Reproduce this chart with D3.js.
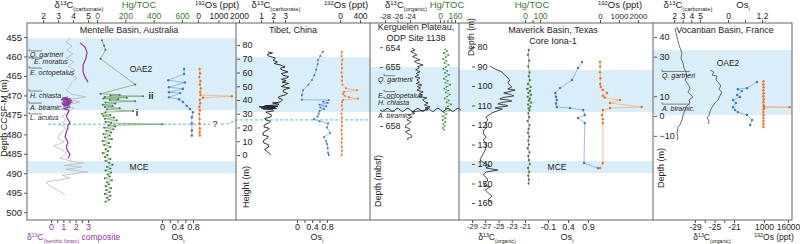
<!DOCTYPE html>
<html>
<head>
<meta charset="utf-8">
<script src="https://cdn.jsdelivr.net/npm/d3@7"></script>
<style>
  body { margin: 0; background: #fff; }
  svg { font-family: "Liberation Sans", Arial, sans-serif; }
</style>
</head>
<body>
<svg id="chart" width="800" height="244"></svg>
<script>
// ---- data ----
// Mentelle Basin: [depth (m), value]
const mentGrey = [[455.3,3.8],[456.3,3.53],[457.3,3.93],[458.3,3.6],[459.4,4.0],[460.4,3.53],[461.4,4.07],[462.5,3.67],[463.5,4.13],[464.5,3.73],[465.5,4.27],[466.6,3.93],[467.6,3.8],[468.6,3.53],[469.7,3.93],[470.4,4.87],[471,3.8],[471.7,4.47],[472.5,3.53],[473.3,4.07],[474.3,3.67],[475.3,3.27],[476.3,3.53],[477.4,3.13],[478.4,3.53],[479.5,3.2],[481,3.0],[482,3.4],[483,2.73],[484,3.27],[485,3.6],[486.1,3.13],[486.9,3.93],[487.4,4.73],[488,3.4],[488.4,4.6],[489,3.53],[489.7,5.0],[490.5,3.27],[491.2,3.8],[492.3,2.2],[493.3,2.47],[494.3,3.0],[495.6,3.47]];
const mentBenthicUpper = [[456.5,2.35],[457.6,2.76],[458.9,2.92],[460.4,2.84],[462.2,2.6],[464,2.6],[465.3,2.76],[466.6,3.0]];
const mentBenthicLower = [[470.4,1.38],[470.7,0.9],[470.9,1.6],[471.1,0.8],[471.3,1.7],[471.5,0.95],[471.7,1.75],[471.9,0.85],[472.1,1.6],[472.3,0.9],[472.5,1.5],[472.7,1.0],[473,1.55],[473.4,0.97],[473.8,1.45],[474.5,1.38],[475.2,1.25],[475.8,1.3],[476.5,1.45],[477.1,1.54],[477.8,1.35],[478.4,1.38],[478.9,1.3],[479.8,1.2],[480.7,1.14],[481.5,1.3],[482.2,1.38],[483,1.25],[484,1.3],[484.7,1.45],[485.3,1.54],[486.1,1.38]];
const mentHg = [[455.8,35],[457.2,50],[458.3,60],[460.6,25],[467.2,270],[469.6,25],[469.8,160],[470.0,95],[470.2,325],[470.4,55],[470.6,210],[470.8,45],[471.0,150],[471.2,90],[471.5,270],[471.8,60],[472.1,130],[472.4,40],[472.7,110],[473.0,55],[473.3,160],[473.6,70],[474.0,255],[474.3,60],[474.7,35],[475.0,95],[475.3,45],[475.7,120],[476.0,55],[476.4,140],[476.8,60],[477.1,100],[477.4,460],[477.7,80],[478.0,130],[478.3,50],[478.7,115],[479.1,65],[479.5,100],[479.9,45],[480.3,90],[480.8,55],[481.2,105],[481.7,40],[482.2,85],[482.7,50],[483.2,95],[483.8,60],[484.3,80],[484.8,40],[485.3,75],[485.8,55],[486.3,95],[486.8,60],[487.3,85],[487.8,110],[488.3,70],[488.8,95],[489.3,60],[489.8,100],[490.3,75],[490.8,90],[491.3,55],[491.8,105],[492.3,70],[492.8,85],[493.3,60],[493.8,100],[494.3,65],[494.8,90],[495.3,55],[495.8,95],[496.3,70],[496.8,85],[497.3,60]];
const mentOsi = [[463.2,0.57],[464.5,0.57],[466.1,0.16],[466.7,0.59],[467.9,0.18],[468.3,0.54],[469.2,0.18],[469.4,0.47],[470.5,0.18],[471.0,0.44],[471.7,0.54],[472.7,0.64],[473.5,0.72],[474.3,0.8],[475.6,0.77],[477.2,0.77],[479.0,0.77],[480.3,0.77]];
const ment192 = [[463.2,80],[464.3,100],[465.3,60],[466.3,120],[467.2,90],[468.2,140],[469.1,100],[469.9,120],[470.2,1650],[470.6,250],[471.1,80],[472.0,110],[472.9,70],[473.8,90],[474.8,60],[476.0,80],[477.2,70],[478.5,90],[479.5,80],[480.3,90]];

// Tibet: [height (m), value]
const tibetC = [[74.9,1.56],[74.2,1.96],[73,1.5],[72,1.64],[70.5,2.2],[69,2.0],[67.6,2.36],[66.5,2.1],[65.5,2.6],[64,3.0],[63,2.6],[61.8,2.76],[60.4,3.24],[59.2,2.7],[58,2.84],[57,3.3],[56,3.16],[55,2.7],[54,3.1],[53,2.76],[52,3.3],[51,3.0],[49.8,2.7],[48.7,3.4],[47.5,2.9],[46,2.84],[44.8,3.2],[43.6,3.0],[42.5,2.5],[41.5,2.44],[40.3,2.8],[38.5,2.6],[37.8,1.96],[37,2.5],[36.4,2.36],[35.8,1.3],[35.4,2.4],[35,0.84],[34.6,2.2],[34.2,1.0],[33.8,2.3],[33.5,1.16],[32.8,2.0],[32,2.04],[31.2,1.4],[30.5,1.56],[29,1.9],[27.6,1.8],[26.5,1.3],[25.5,1.4],[24.5,1.8],[23.3,1.64],[22,1.3],[20.4,1.24],[19.3,1.7],[18.2,1.56],[16.5,1.2],[14.5,1.16],[13.5,1.6],[12.4,1.56],[10.5,1.2],[8.7,1.24],[7.5,1.6],[5.8,1.64],[4,1.3],[2.2,1.56],[0,1.8]];
const tibetOsi = [[75,0.69],[72,0.62],[69,0.56],[66,0.55],[62,0.51],[58,0.46],[54.5,0.4],[51,0.3],[47,0.16],[43.6,0.13],[40.2,0.13],[40,0.85],[38.8,0.7],[37.8,0.82],[36.6,0.6],[35.5,0.78],[34.5,0.62],[33.5,0.72],[32,0.6],[30,0.58],[28,0.55],[26,0.45],[24.5,0.6],[23,0.83],[20,0.8],[16,0.88],[13,0.72],[10,0.78],[8,0.8],[5,0.82],[1.5,0.83],[0,0.85]];
const tibet192 = [[75,40],[72,30],[69,45],[66,35],[63,40],[60,30],[57,45],[54,40],[51,50],[48.5,120],[47,340],[46,80],[44.5,60],[43,90],[42,180],[41,360],[40,60],[38.5,40],[36,35],[33,45],[30,30],[27,40],[24,35],[21,40],[18,30],[15,35],[12,40],[9,30],[6,35],[3,40],[0,35]];

// Kerguelen Plateau: [depth (mbsf), value]
const kergC = [[654.04,-23.7],[654.14,-23.2],[654.22,-23.9],[654.29,-23.4],[654.39,-22.9],[654.47,-23.6],[654.54,-23.1],[654.64,-22.4],[654.72,-23.3],[654.8,-22.9],[654.9,-21.9],[654.98,-22.8],[655.05,-22.5],[655.15,-23.1],[655.25,-22.4],[655.33,-23.0],[655.41,-22.6],[655.5,-23.2],[655.56,-22.4],[655.66,-22.9],[655.76,-22.5],[655.84,-23.0],[655.91,-22.1],[656.0,-22.8],[656.07,-22.3],[656.17,-22.9],[656.27,-21.9],[656.35,-22.5],[656.42,-22.0],[656.5,-22.6],[656.57,-21.3],[656.66,-22.0],[656.78,-21.6],[656.83,-21.1],[656.93,-21.7],[657.03,-20.8],[657.08,-21.6],[657.18,-21.1],[657.28,-23.7],[657.36,-23.2],[657.44,-24.3],[657.54,-23.7],[657.62,-24.2],[657.69,-24.5],[657.77,-23.9],[657.84,-24.0],[657.95,-24.6],[658.05,-24.8],[658.13,-24.1],[658.2,-24.0],[658.28,-24.7],[658.35,-24.5],[658.45,-23.9],[658.55,-23.7],[658.63,-24.4],[658.71,-24.3]];
const kergHg = [[654.1,55],[654.2,75],[654.3,40],[654.4,90],[654.5,60],[654.6,30],[654.7,70],[654.8,45],[654.9,95],[655.0,60],[655.1,35],[655.2,80],[655.3,50],[655.4,100],[655.5,65],[655.6,40],[655.7,85],[655.8,55],[655.9,110],[656.0,70],[656.1,45],[656.2,90],[656.3,60],[656.4,105],[656.5,75],[656.6,50],[656.7,95],[656.8,70],[656.9,120],[657.0,85],[657.1,60],[657.2,100],[657.3,40],[657.4,70],[657.5,30],[657.6,55],[657.7,25],[657.8,60],[657.9,35],[658.0,50],[658.1,30],[658.2,45]];

// Maverick Basin: [depth (m), value]
const mavC = [[89.7,-26.3],[90.8,-25.8],[92.8,-24.5],[94.9,-23.9],[96.9,-23.3],[98.5,-23.6],[100.5,-23.0],[101.5,-23.6],[102.1,-22.5],[103.6,-24.2],[104.3,-23.2],[105.1,-22.7],[105.9,-24.3],[106.7,-24.8],[107.2,-23.5],[107.7,-23.0],[108.5,-24.6],[109.2,-25.1],[109.8,-23.9],[110.3,-23.6],[110.8,-25.0],[111.3,-25.5],[111.8,-24.4],[112.3,-24.8],[113.8,-26.0],[115.9,-26.9],[117.5,-26.6],[119,-27.0],[121,-26.7],[122.5,-27.2],[124.1,-27.3],[126.2,-26.9],[127.7,-27.3],[130,-26.8],[132.8,-27.0],[135.9,-27.5],[138,-27.8],[140,-26.9],[141,-26.3],[142,-26.9],[143.1,-25.1],[144.1,-26.9],[145.6,-27.3],[147,-26.8],[148.2,-26.6],[150.8,-27.2],[151.8,-26.3],[153.3,-27.0],[155,-26.5],[156.4,-26.0],[158.5,-26.6],[160,-26.0]];
const mavHg = [[81.5,25],[84,20],[87,28],[90,22],[93,30],[95,25],[97,32],[99,20],[100.5,38],[101.5,15],[102.5,35],[103.5,22],[104.5,40],[105.5,18],[106.5,33],[107.5,25],[108.5,42],[109.5,20],[110.5,36],[111.5,24],[112.5,30],[114,22],[116,28],[118,18],[120,30],[122,24],[124,20],[126,28],[128,22],[130,26],[132,18],[134,30],[136,22],[138,26],[140,32],[142,20],[144,28],[146,22],[148,26],[150,24]];
const mavOsi = [[87.7,0.75],[90.8,0.65],[96.9,0.5],[101,0.2],[103.6,0.08],[105.5,0.1],[107.2,0.12],[109,0.1],[110.8,0.12],[111.3,0.45],[112.3,0.78],[114.9,0.82],[116.4,0.65],[119,0.82],[139.5,0.8],[142.1,1.15]];
const mav192 = [[87.7,0],[90,10],[93,0],[96,20],[99,10],[100.5,40],[102,150],[103.6,370],[105,150],[106,250],[107.2,1050],[108.7,530],[110.8,2200],[111.3,530],[112.3,150],[114.9,100],[117,150],[119,150],[139.5,150],[142.1,0]];

// Vocantian Basin: [height (m), value]
const vocC = [[44.4,2.12],[39.9,2.35],[35.9,2.58],[31.8,2.92],[29.3,2.81],[26.8,3.04],[24.2,3.15],[22.2,3.38],[19.7,3.5],[18.2,3.27],[16.2,3.61],[14.1,3.85],[12.1,3.61],[9.6,4.19],[8.1,3.73],[6.6,3.85],[4.5,3.38],[3,3.27],[0.5,3.04],[-2,2.92],[-4.5,2.69],[-5.6,2.46],[-8.6,2.35],[-10.6,2.46],[-12.1,2.35]];
const vocCorg = [[23.2,-25.9],[22.2,-25.1],[20.7,-25.5],[20.2,-24.5],[18.2,-24.7],[16.7,-24.1],[15.2,-23.7],[13.6,-24.1],[12.1,-23.5],[10.1,-23.9],[8.1,-24.3],[6.6,-24.9],[4.5,-25.5],[2.5,-25.9],[0.5,-26.1],[-1,-26.5],[-2.5,-26.1],[-4,-26.3]];
const vocOsi = [[17.2,1.02],[14.1,0.67],[13.6,0.35],[12.6,0.49],[10.6,0.32],[9.6,0.42],[8.1,0.18],[6.6,0.28],[4.5,0.18],[3,0.25],[2,0.35],[0.5,0.67],[-2,0.85],[-4.5,0.78]];
const voc192 = [[17.5,700],[16,600],[14.5,800],[13,650],[11.5,750],[10,600],[8.5,800],[7,650],[5.5,750],[4.8,1000],[4.5,17000],[4.2,1100],[3.5,700],[2,600],[0.5,750],[-1,650],[-2.5,700],[-4,600],[-5.5,650]];

// event intervals [top, bottom] per section
const mentBands = [[455.3,473.8],[486.9,490.0]];
const tibetBands = [[71.3,31.3]];
const kergBands = [[655.0,657.28]];
const mavBands = [[91.8,113.3],[138.5,144.6]];
const vocBands = [[33.3,0.5]];
const mentDashed = 477.4, tibetDashed = 25.5, kergUnconf = 657.18;

// ---- layout ----
const svg = d3.select('#chart');
const yTop = 23, yBottom = 220;
const edges = [27, 236, 370, 459, 653, 792];
const colors = {
  band: '#d9eef8', blue: '#3f74cc', blueLine: '#86a9e6', orange: '#f26f21', orangeLine: '#f5ad84',
  green: '#3d7636', greenLine: '#7fa877', purple: '#8a3b98', grey: '#b9b9b9', black: '#1c1c1c', text: '#222'
};

const mentY = d3.scaleLinear().domain([451.4, 502]).range([yTop, yBottom]);
const tibetY = d3.scaleLinear().domain([96, -47.3]).range([yTop, yBottom]);
const kergY = d3.scaleLinear().domain([652.77, 662.77]).range([yTop, yBottom]);
const mavY = d3.scaleLinear().domain([67.7, 168.7]).range([yTop, yBottom]);
const vocY = d3.scaleLinear().domain([47, -52.5]).range([yTop, yBottom]);

// x scales
const sc = (d, r) => d3.scaleLinear().domain(d).range(r);
const mentCx = sc([2, 5], [43, 88]), mentHgx = sc([0, 600], [97, 182]), ment192x = sc([0, 2000], [198, 239]);
const mentBx = sc([0, 3], [51, 88]), mentOsx = sc([0, 0.8], [162, 193]);
const tibetCx = sc([1, 3], [261, 285]), tibet192x = sc([0, 400], [340, 360]), tibetOsx = sc([0, 0.8], [297, 327]);
const kergCx = sc([-28, -24], [385, 410]), kergHgx = sc([0, 160], [440, 455]);
const mavHgx = sc([0, 100], [525, 540]), mav192x = sc([0, 2000], [600, 638]);
const mavCx = sc([-29, -21], [472, 525]), mavOsx = sc([-0.1, 0.9], [548, 588]);
const vocCx = sc([2, 5], [674, 700]), vocOsx = sc([0, 1.2], [728, 762]);
const vocCorgx = sc([-29, -21], [695, 734]), voc192x = sc([1000, 16000], [764, 788]);

// bands
function bands(list, y, x0, x1) {
  svg.append('g').selectAll('rect').data(list).join('rect')
    .attr('x', x0).attr('width', x1 - x0)
    .attr('y', d => y(d[0])).attr('height', d => y(d[1]) - y(d[0]))
    .attr('fill', colors.band);
}
bands(mentBands, mentY, edges[0], edges[1]);
bands(tibetBands, tibetY, edges[1], edges[2]);
bands(kergBands, kergY, edges[2], edges[3]);
bands(mavBands, mavY, edges[3], edges[4]);
bands(vocBands, vocY, edges[4], edges[5]);

// dashed correlation line
const dash = svg.append('g').attr('stroke', '#5fb6e4').attr('stroke-width', 1).attr('stroke-dasharray', '3,2').attr('fill', 'none');
dash.append('line').attr('x1', 48).attr('x2', 210).attr('y1', mentY(mentDashed)).attr('y2', mentY(mentDashed));
dash.append('path').attr('d', `M221,${mentY(mentDashed)} Q230,${mentY(mentDashed)} 236,${tibetY(tibetDashed)} L368,${tibetY(tibetDashed)}`);

// series drawing
function series(data, x, y, opt) {
  const g = svg.append('g');
  g.append('path').datum(data)
    .attr('d', d3.line().x(d => x(d[1])).y(d => y(d[0])))
    .attr('fill', 'none').attr('stroke', opt.line).attr('stroke-width', opt.width || 0.8);
  if (opt.dot) {
    g.selectAll('circle').data(data).join('circle')
      .attr('cx', d => x(d[1])).attr('cy', d => y(d[0])).attr('r', opt.r || 1.2)
      .attr('fill', opt.dot);
  }
}
series(mentGrey, mentCx, mentY, { line: colors.grey, width: 0.8 });
series(mentBenthicUpper, mentBx, mentY, { line: colors.purple, width: 1.2 });
series(mentBenthicLower, mentBx, mentY, { line: colors.purple, width: 1.2 });
series(mentHg, mentHgx, mentY, { line: colors.greenLine, dot: colors.green, r: 1 });
series(mentOsi, mentOsx, mentY, { line: colors.blueLine, dot: colors.blue });
series(ment192, ment192x, mentY, { line: colors.orangeLine, dot: colors.orange });

series(tibetC, tibetCx, tibetY, { line: colors.black, width: 0.9 });
series(tibetOsi, tibetOsx, tibetY, { line: colors.blueLine, dot: colors.blue, r: 1 });
series(tibet192, tibet192x, tibetY, { line: colors.orangeLine, dot: colors.orange, r: 1 });

series(kergC, kergCx, kergY, { line: colors.black, width: 0.8 });
series(kergHg, kergHgx, kergY, { line: colors.greenLine, dot: colors.green, r: 0.8 });

series(mavC, mavCx, mavY, { line: colors.black, width: 0.8 });
series(mavHg, mavHgx, mavY, { line: colors.greenLine, dot: colors.green, r: 1.1 });
series(mavOsi, mavOsx, mavY, { line: colors.blueLine, dot: colors.blue });
series(mav192, mav192x, mavY, { line: colors.orangeLine, dot: colors.orange });

series(vocC, vocCx, vocY, { line: '#333', width: 0.7 });
series(vocCorg, vocCorgx, vocY, { line: '#333', width: 0.7 });
series(vocOsi, vocOsx, vocY, { line: colors.blueLine, dot: colors.blue });
series(voc192, voc192x, vocY, { line: colors.orangeLine, dot: colors.orange });

// unconformity (wavy line) at Kerguelen
const wy = kergY(kergUnconf);
const wave = d3.range(380, 462, 1).map(x => [x, wy + 1.5 * Math.sin((x - 380) / 1.6)]);
svg.append('path').datum(wave).attr('d', d3.line()).attr('fill', 'none').attr('stroke', '#111').attr('stroke-width', 0.8);

// frame
const frame = svg.append('g').attr('stroke', '#555').attr('stroke-width', 0.9).attr('fill', 'none');
frame.append('rect').attr('x', edges[0]).attr('y', yTop).attr('width', edges[5] - edges[0]).attr('height', yBottom - yTop);
edges.slice(1, 5).forEach(x => frame.append('line').attr('x1', x).attr('x2', x).attr('y1', yTop).attr('y2', yBottom));

// axes
function hAxis(scale, ticks, pos, labels, size) {
  const ax = (pos === 'top' ? d3.axisTop(scale) : d3.axisBottom(scale))
    .tickValues(ticks).tickSize(3).tickPadding(1)
    .tickFormat((d, i) => labels ? labels[i] : d);
  const g = svg.append('g').attr('transform', `translate(0,${pos === 'top' ? yTop : yBottom})`).call(ax);
  g.select('.domain').remove();
  g.selectAll('text').filter(function () { return this.textContent === ''; }).remove();
  g.selectAll('text').attr('font-size', size || 8.5).attr('fill', colors.text).attr('font-family', null);
  g.selectAll('line').attr('stroke', '#555');
  return g;
}
hAxis(mentCx, [2, 3, 4, 5], 'top');
hAxis(mentHgx, [0, 200, 400, 600], 'top').selectAll('text').attr('fill', colors.green);
hAxis(ment192x, [0, 1000, 2000], 'top');
hAxis(mentBx, [0, 0.5, 1, 1.5, 2, 2.5, 3], 'bottom', ['0', '', '1', '', '2', '', '3'], 9).selectAll('text').attr('fill', colors.purple);
hAxis(mentOsx, [0, 0.2, 0.4, 0.6, 0.8], 'bottom', ['0', '', '0.4', '', '0.8'], 9);
hAxis(tibetCx, [1, 2, 3], 'top');
hAxis(tibet192x, [0, 400], 'top');
hAxis(tibetOsx, [0, 0.2, 0.4, 0.6, 0.8], 'bottom', ['0', '', '0.4', '', '0.8'], 9);
hAxis(kergCx, [-28, -26, -24], 'top', null, 7.5);
hAxis(kergHgx, [0, 40, 80, 120, 160], 'top', ['0', '', '', '', '160']).selectAll('text').attr('fill', colors.green);
hAxis(mavHgx, [0, 50, 100], 'top', ['0', '', '100']).selectAll('text').attr('fill', colors.green);
hAxis(mav192x, [0, 1000, 2000], 'top', null, 8);
hAxis(mavCx, [-29, -27, -25, -23, -21], 'bottom', null, 7.5);
hAxis(mavOsx, [-0.1, 0.4, 0.9], 'bottom', null, 9);
hAxis(vocCx, [2, 3, 4, 5], 'top');
hAxis(vocOsx, [0, 0.6, 1.2], 'top', ['0', '', '1.2']);
hAxis(vocCorgx, [-29, -27, -25, -23, -21], 'bottom', ['-29', '', '-25', '', '-21']);
hAxis(voc192x, [1000, 16000], 'bottom');

function vAxis(scale, ticks, x, side, size) {
  const ax = (side === 'left' ? d3.axisLeft(scale) : d3.axisRight(scale))
    .tickValues(ticks).tickSize(3).tickPadding(side === 'left' ? 2 : 2.5);
  const g = svg.append('g').attr('transform', `translate(${x},0)`).call(ax);
  g.select('.domain').remove();
  g.selectAll('text').attr('font-size', size || 9).attr('fill', colors.text).attr('font-family', null);
  g.selectAll('line').attr('stroke', '#555');
}
vAxis(mentY, d3.range(455, 501, 5), edges[0], 'left', 9.5);
vAxis(tibetY, d3.range(0, 81, 10), edges[1] + 1, 'right');
vAxis(kergY, [654, 655, 658], 380, 'right');
vAxis(mavY, d3.range(80, 161, 10), 472, 'right');
vAxis(vocY, [40, 30, 10, 0, -10], edges[4] + 1, 'right');

// text helpers
function rich(x, y, parts, opt = {}) {
  const size = opt.size || 9;
  const t = svg.append('text').attr('x', x).attr('y', y)
    .attr('text-anchor', opt.anchor || 'middle').attr('font-size', size)
    .attr('fill', opt.color || colors.text);
  if (opt.rotate) t.attr('transform', `rotate(-90,${x},${y})`);
  parts.forEach(p => {
    const s = t.append('tspan').text(p[0]);
    if (p[1] === 'sup') s.attr('baseline-shift', 'super').attr('font-size', size * 0.62);
    if (p[1] === 'sub') s.attr('baseline-shift', 'sub').attr('font-size', size * 0.62);
  });
  return t;
}
const d13 = sub => [['δ'], ['13', 'sup'], ['C'], [sub, 'sub']];
const os192 = [['192', 'sup'], ['Os (ppt)']];
const osi = [['Os'], ['i', 'sub']];

// top axis titles
const tt = { size: 9.5 };
rich(79, 7.5, d13('(carbonate)'), tt);
rich(139, 8, [['Hg/TOC']], { size: 9.5, color: colors.green });
rich(217, 8, os192, tt);
rich(276, 7.5, d13('(carbonate)'), tt);
rich(346, 8, os192, tt);
rich(406, 7.5, d13('(organic)'), tt);
rich(447, 8, [['Hg/TOC']], { size: 9.5, color: colors.green });
rich(532, 8, [['Hg/TOC']], { size: 9.5, color: colors.green });
rich(620, 8, os192, tt);
rich(688, 7.5, d13('(carbonate)'), tt);
rich(743, 8, osi, tt);

// bottom axis titles
const bt = { size: 8.5 };
rich(27, 240, [['δ'], ['13', 'sup'], ['C'], ['(benthic foram)', 'sub'], [' composite']], { anchor: 'start', color: colors.purple, size: 8.5 });
rich(178, 240, osi);
rich(317, 240, osi);
rich(497, 240, d13('(organic)'), bt);
rich(567, 240, osi);
rich(712, 240, d13('(organic)'), bt);
rich(774, 240, os192, bt);

// y axis titles
rich(7, 118, [['Depth CCSF-M (m)']], { rotate: true, size: 9 });
rich(249, 187, [['Height (m)']], { rotate: true });
rich(381, 181, [['Depth (mbsf)']], { rotate: true });
rich(474, 37, [['Depth (m)']], { rotate: true, size: 8.5 });
rich(664, 168, [['Depth (m)']], { rotate: true });

// panel titles
rich(129, 33, [['Mentelle Basin, Australia']]);
rich(293, 33, [['Tibet, China']]);
rich(416, 30, [['Kerguelen Plateau,']]);
rich(416, 41, [['ODP Site 1138']]);
rich(553, 33, [['Maverick Basin, Texas']]);
rich(553, 44, [['Core Iona-1']]);
rich(725, 33, [['Vocantian Basin, France']]);

// event labels
rich(141, 72, [['OAE2']], { size: 8.5 });
rich(728, 66, [['OAE2']], { size: 8.5 });
rich(139, 170, [['MCE']], { size: 8.5 });
rich(557, 170, [['MCE']], { size: 8.5 });
rich(151, 99, [['ii']], { size: 9 }).attr('font-weight', 'bold');
rich(137, 116, [['i']], { size: 9 }).attr('font-weight', 'bold');
rich(215, 127, [['?']], { size: 9 });

// biostratigraphic markers
const mentSpecies = [['Q. gartneri', 459.6], ['E. moratus', 461.4], ['E. octopetalus', 464.0], ['H. chiasta', 469.9], ['A. biramic.', 473.0], ['L. acutus', 475.8]];
const kergSpecies = [['Q. gartnerii', 655.65], ['E. octopetalus', 656.45], ['H. chiasta', 656.8], ['A. biramic.', 657.45]];
const vocSpecies = [['Q. gartneri', 20.5], ['A. biramic.', 4.0]];
function species(list, y, x, lineX) {
  const g = svg.append('g');
  list.forEach((s, i) => {
    const yy = y(s[1]);
    g.append('text').attr('x', x + (i === 1 && list === mentSpecies ? 4 : 0)).attr('y', yy + 2.5)
      .attr('font-size', 7).attr('font-style', 'italic').attr('fill', colors.text).text(s[0]);
    g.append('path').attr('d', `M${lineX[0]},${yy - 6} L${lineX[0]},${yy - 4} L${lineX[1]},${yy - 4}`)
      .attr('fill', 'none').attr('stroke', '#555').attr('stroke-width', 0.7);
  });
}
species(mentSpecies, mentY, 30, [29, 42]);
species(kergSpecies, kergY, 378, [384, 395]);
species(vocSpecies, vocY, 662, [662, 690]);
</script>
</body>
</html>
